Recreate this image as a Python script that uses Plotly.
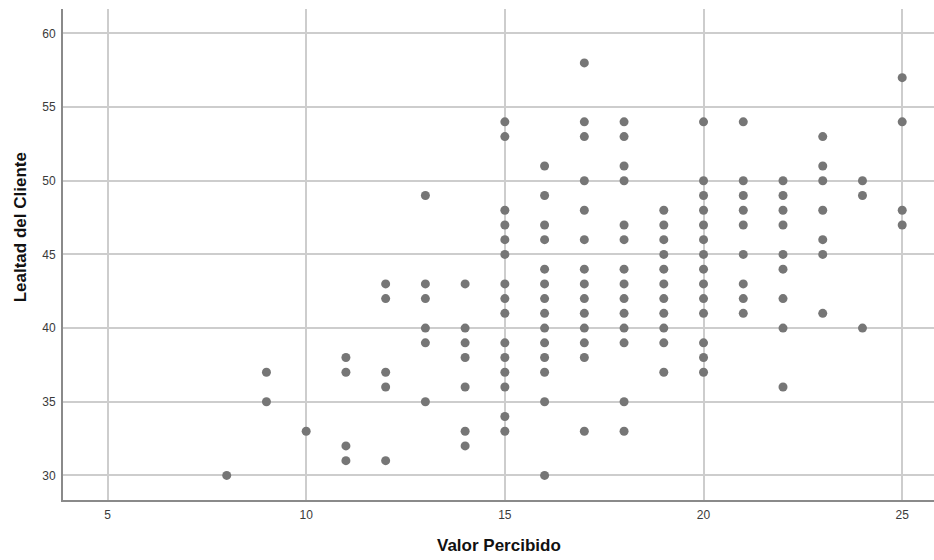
import plotly.graph_objects as go

valor_percibido = [8, 9, 10, 11, 12, 13, 14, 15, 16, 17, 18, 19, 20, 21, 22, 23, 24, 25]
lealtad_por_valor = [
    [30],
    [37, 35],
    [33],
    [38, 37, 32, 31],
    [43, 42, 37, 36, 31],
    [49, 43, 42, 40, 39, 35],
    [43, 40, 39, 38, 36, 33, 32],
    [54, 53, 48, 47, 46, 45, 43, 42, 41, 39, 38, 37, 36, 34, 33],
    [51, 49, 47, 46, 44, 43, 42, 41, 40, 39, 38, 37, 35, 30],
    [58, 54, 53, 50, 48, 46, 44, 43, 42, 41, 40, 39, 38, 33],
    [54, 53, 51, 50, 47, 46, 44, 43, 42, 41, 40, 39, 35, 33],
    [48, 47, 46, 45, 44, 43, 42, 41, 40, 39, 37],
    [54, 50, 49, 48, 47, 46, 45, 44, 43, 42, 41, 39, 38, 37],
    [54, 50, 49, 48, 47, 45, 43, 42, 41],
    [50, 49, 48, 47, 45, 44, 42, 40, 36],
    [53, 51, 50, 48, 46, 45, 41],
    [50, 49, 40],
    [57, 54, 48, 47],
]

x_tick_vals = [5, 10, 15, 20, 25]
y_tick_vals = [30, 35, 40, 45, 50, 55, 60]
x_title = "Valor Percibido"
y_title = "Lealtad del Cliente"

xs, ys = [], []
for v, col in zip(valor_percibido, lealtad_por_valor):
    for l in col:
        xs.append(v)
        ys.append(l)

fig = go.Figure()
fig.add_trace(go.Scatter(
    x=xs, y=ys, mode="markers",
    marker=dict(color="#767676", size=9, line=dict(width=0)),
    hoverinfo="x+y",
))

axis_font = dict(family="Liberation Sans, Arial, sans-serif", size=12, color="#3a3a3a")
title_font = dict(family="Liberation Sans, Arial, sans-serif", size=17, color="#111111")

fig.update_layout(
    width=934, height=560,
    margin=dict(l=63, r=0, t=9, b=60),
    plot_bgcolor="white", paper_bgcolor="white",
    showlegend=False,
    xaxis=dict(
        range=[3.88, 25.8],
        tickvals=x_tick_vals,
        ticktext=[str(v) for v in x_tick_vals],
        showgrid=True, gridcolor="#cdcdcd", gridwidth=1.6,
        showline=True, linecolor="#8a8a8a", linewidth=2,
        zeroline=False, ticks="", ticklabelstandoff=3,
        tickfont=axis_font,
        automargin=False,
    ),
    yaxis=dict(
        range=[28.33, 61.66],
        tickvals=y_tick_vals,
        ticktext=[str(v) for v in y_tick_vals],
        showgrid=True, gridcolor="#cdcdcd", gridwidth=1.6,
        showline=True, linecolor="#8a8a8a", linewidth=2,
        zeroline=False, ticks="", ticklabelstandoff=3,
        tickfont=axis_font,
        automargin=False,
    ),
    annotations=[
        dict(text="<b>" + x_title + "</b>", xref="paper", yref="paper",
             x=0.5, y=-0.092, xanchor="center", yanchor="middle",
             showarrow=False, font=title_font),
        dict(text="<b>" + y_title + "</b>", xref="paper", yref="paper",
             x=-0.049, y=0.556, xanchor="center", yanchor="middle",
             textangle=-90, showarrow=False, font=title_font),
    ],
)

fig.write_html(
    "out.html",
    config={"displayModeBar": False},
    post_script="document.body.style.margin='0';document.body.style.overflow='hidden';",
)
